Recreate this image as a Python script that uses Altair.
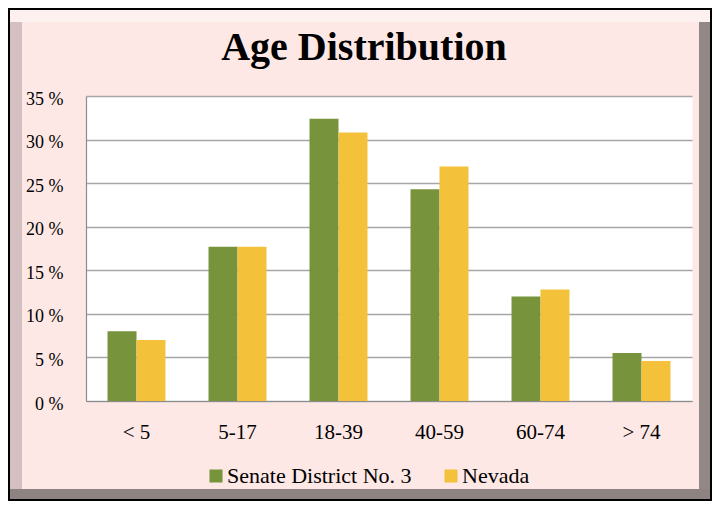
import altair as alt
import pandas as pd

# ---- data ----
categories = ["< 5", "5-17", "18-39", "40-59", "60-74", "> 74"]
series = ["Senate District No. 3", "Nevada"]
district_values = [8.0, 17.7, 32.4, 24.3, 12.0, 5.5]
nevada_values = [7.0, 17.7, 30.8, 26.9, 12.8, 4.6]
colors = ["#77933C", "#F3C13A"]
y_ticks = [0, 5, 10, 15, 20, 25, 30, 35]
title_text = "Age Distribution"

rows = []
for c, d, n in zip(categories, district_values, nevada_values):
    rows.append({"age": c, "series": series[0], "pct": d})
    rows.append({"age": c, "series": series[1], "pct": n})
df = pd.DataFrame(rows)

FONT = "Liberation Serif"
W, H = 606, 305
one = pd.DataFrame({"k": [0]})


def band(x1, x2, y1, y2, color):
    return alt.Chart(one).mark_rect(color=color).encode(
        x=alt.value(x1), x2=alt.value(x2), y=alt.value(y1), y2=alt.value(y2)
    )


# decorative bevelled frame (relative to plot-area origin)
left_bevel = band(-76, -64, -86, 403, "#D4C0C1")
right_bevel = band(613, 624, -86, 403, "#928886")
top_bevel = band(-76, 624, -86, -74, "#FDF1EF")
bottom_bevel = band(-76, 624, 393, 403, "#8D8381")
border = alt.Chart(one).mark_rect(fillOpacity=0, stroke="black", strokeWidth=2).encode(
    x=alt.value(-77), x2=alt.value(625), y=alt.value(-87), y2=alt.value(404)
)

title = alt.Chart(one).mark_text(
    text=title_text, font=FONT, fontSize=40, fontWeight="bold", color="black",
    baseline="alphabetic", align="center",
).encode(x=alt.value(278), y=alt.value(-36))

bars = alt.Chart(df).mark_bar().encode(
    x=alt.X(
        "age:N", sort=categories,
        scale=alt.Scale(paddingInner=0.426, paddingOuter=0.213),
        axis=alt.Axis(
            title=None, labelAngle=0, ticks=False, tickSize=0, labelPadding=37,
            labelBaseline="alphabetic", labelFont=FONT, labelFontSize=21,
            labelColor="black", domainColor="#8C8C8C", domainWidth=1.2, grid=False,
        ),
    ),
    xOffset=alt.XOffset("series:N", sort=series,
                        scale=alt.Scale(paddingInner=0, paddingOuter=0)),
    y=alt.Y(
        "pct:Q", scale=alt.Scale(domain=[0, 35], nice=False),
        axis=alt.Axis(
            title=None, values=y_ticks, labelExpr="datum.value + ' %'",
            ticks=False, tickSize=0, labelPadding=23, labelBaseline="alphabetic",
            labelOffset=8, labelFont=FONT, labelFontSize=18, labelColor="black",
            domainColor="#8C8C8C", domainWidth=1.2,
            grid=True, gridColor="#A6A6A6", gridWidth=1.3,
        ),
    ),
    color=alt.Color(
        "series:N", sort=series,
        scale=alt.Scale(domain=series, range=colors),
        legend=alt.Legend(
            title=None, orient="none", legendX=119, legendY=369,
            direction="horizontal", symbolType="square", symbolSize=169,
            symbolStrokeWidth=0, labelFont=FONT, labelFontSize=22,
            labelColor="black", labelLimit=400, columnPadding=28, labelOffset=0,
        ),
    ),
)

chart = alt.layer(
    left_bevel, right_bevel, top_bevel, bottom_bevel, border, title, bars
).properties(
    width=W, height=H,
    autosize=alt.AutoSizeParams(type="none"),
    padding={"left": 78, "top": 88, "right": 20, "bottom": 100},
    background="#FEE8E6",
).configure_view(fill="white", strokeOpacity=0)

chart.save("out.html", embed_options={"renderer": "svg", "actions": False})
